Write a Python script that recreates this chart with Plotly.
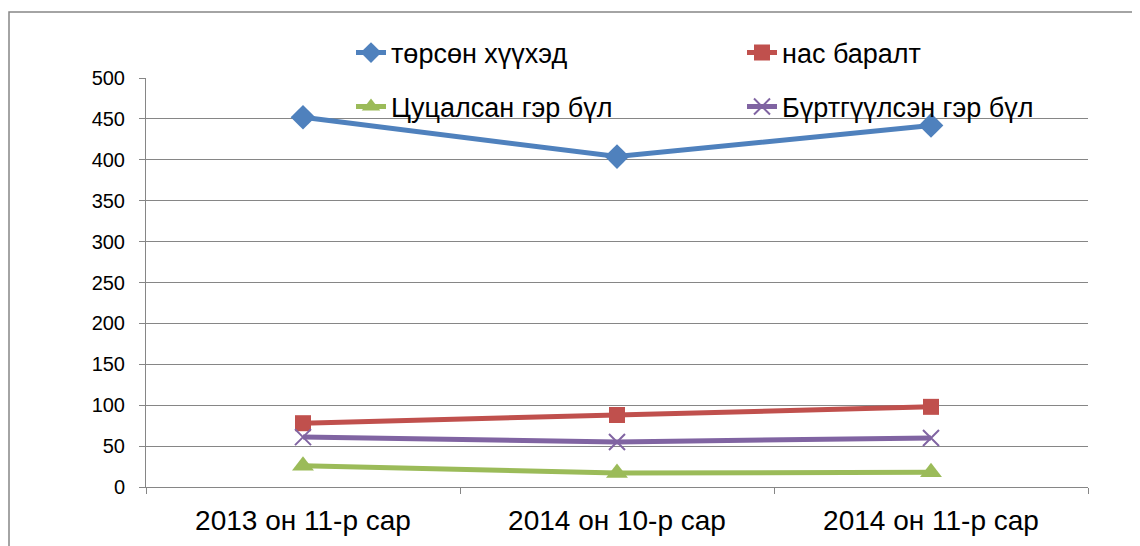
import plotly.graph_objects as go

categories = ["2013 он 11-р сар", "2014 он 10-р сар", "2014 он 11-р сар"]
born = [452, 404, 442]
deaths = [78, 88, 98]
divorced = [26, 17, 18]
married = [61, 55, 60]

series_names = ["төрсөн хүүхэд", "нас баралт", "Цуцалсан гэр бүл", "Бүртгүүлсэн гэр бүл"]
colors = ["#4F81BD", "#C0504D", "#9BBB59", "#8064A2"]

# page has an 8px body margin: figure origin sits at (8, 8) on the page
OFF = 8
W, H = 1140, 546
L, T = 146 - OFF, 78 - OFF
R = W - (1088 - OFF)
B = H - (487 - OFF)
pw, ph = W - L - R, H - T - B

fig = go.Figure()
fig.add_trace(go.Scatter(x=categories, y=born, name=series_names[0], mode="lines+markers",
                         line=dict(color=colors[0], width=5),
                         marker=dict(symbol="diamond", size=19, color=colors[0]), legend="legend"))
fig.add_trace(go.Scatter(x=categories, y=deaths, name=series_names[1], mode="lines+markers",
                         line=dict(color=colors[1], width=5),
                         marker=dict(symbol="square", size=16, color=colors[1]), legend="legend2"))
fig.add_trace(go.Scatter(x=categories, y=divorced, name=series_names[2], mode="lines+markers",
                         line=dict(color=colors[2], width=5),
                         marker=dict(symbol="triangle-up", size=19, color=colors[2]), legend="legend3"))
fig.add_trace(go.Scatter(x=categories, y=married, name=series_names[3], mode="lines+markers",
                         line=dict(color=colors[3], width=5),
                         marker=dict(symbol="x-thin", size=16, line=dict(color=colors[3], width=2)),
                         legend="legend4"))

legend_common = dict(orientation="h",
                     font=dict(family="Liberation Sans, Arial", size=27, color="#000000"),
                     bgcolor="rgba(0,0,0,0)", xanchor="left", yanchor="middle",
                     xref="container", yref="container", itemwidth=30)

fig.update_layout(
    width=W, height=H, showlegend=True,
    margin=dict(l=L, r=R, t=T, b=B, pad=0, autoexpand=False),
    paper_bgcolor="white", plot_bgcolor="white",
    font=dict(family="Liberation Sans, Arial", color="#000000"),
    legend=dict(**legend_common, x=(351 - OFF) / W, y=1 - (53 - OFF) / H),
    legend2=dict(**legend_common, x=(742 - OFF) / W, y=1 - (53 - OFF) / H),
    legend3=dict(**legend_common, x=(351 - OFF) / W, y=1 - (107 - OFF) / H),
    legend4=dict(**legend_common, x=(742 - OFF) / W, y=1 - (107 - OFF) / H),
    xaxis=dict(type="category", showgrid=False, showline=True, linecolor="#868686", linewidth=1,
               ticks="outside", tickson="boundaries", ticklen=6, tickcolor="#868686",
               tickfont=dict(size=28, family="Liberation Sans, Arial"), ticklabelstandoff=8,
               range=[-0.5, 2.5], automargin=False),
    yaxis=dict(range=[0, 500], dtick=50, showgrid=True, gridcolor="#868686", gridwidth=1,
               showline=True, linecolor="#868686", linewidth=1, ticks="outside", ticklen=6,
               tickcolor="#868686", tickfont=dict(size=20, family="Liberation Sans, Arial"),
               ticklabelstandoff=10, zeroline=False, automargin=False),
    shapes=[dict(type="rect", xref="paper", yref="paper",
                 x0=(1 - L) / pw, x1=(W + 10 - L) / pw,
                 y0=-(H + 10 - (487 - OFF)) / ph, y1=((487 - OFF) - (12 - OFF)) / ph,
                 line=dict(color="#868686", width=1.5), fillcolor="rgba(0,0,0,0)", layer="below")],
)

fig.write_html("out.html")
